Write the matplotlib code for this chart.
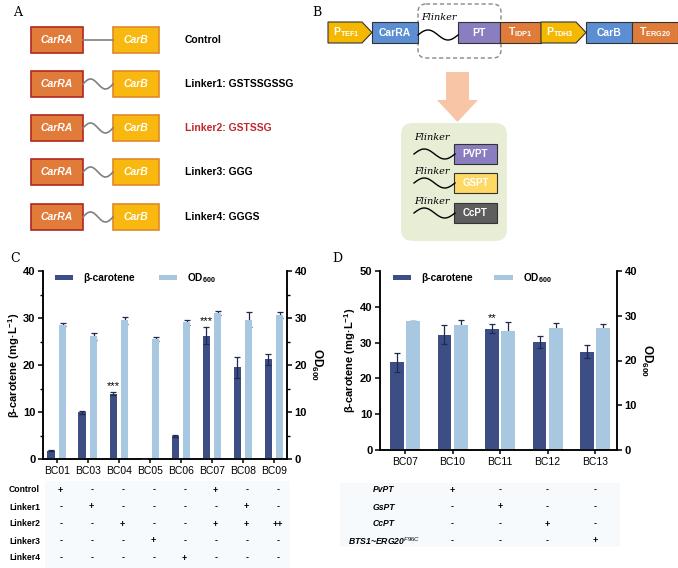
import numpy as np
import matplotlib.pyplot as plt
from matplotlib.patches import Rectangle, Polygon, FancyBboxPatch
from matplotlib import transforms
from matplotlib.ticker import MultipleLocator

plt.rcParams['font.family'] = ['Liberation Sans', 'DejaVu Sans']
plt.rcParams['mathtext.fontset'] = 'custom'
plt.rcParams['mathtext.rm'] = 'Liberation Sans'
plt.rcParams['mathtext.bf'] = 'Liberation Sans:bold'
plt.rcParams['mathtext.it'] = 'Liberation Sans:italic'

# ---- data: panel C ----
c_labels = ['BC01', 'BC03', 'BC04', 'BC05', 'BC06', 'BC07', 'BC08', 'BC09']
c_beta = [1.8, 9.9, 13.9, 0.0, 4.9, 26.2, 19.5, 21.2]
c_beta_err = [0.2, 0.4, 0.3, 0.0, 0.15, 1.8, 2.2, 1.1]
c_od = [28.6, 26.1, 29.5, 25.6, 29.1, 31.1, 29.6, 30.7]
c_od_err = [0.4, 0.7, 0.8, 0.4, 0.5, 0.4, 1.6, 0.6]
c_sig = ['', '', '***', '', '', '***', '', '']
c_rows = ['Control', 'Linker1', 'Linker2', 'Linker3', 'Linker4']
c_marks = [['+', '-', '-', '-', '-', '+', '-', '-'],
           ['-', '+', '-', '-', '-', '-', '+', '-'],
           ['-', '-', '+', '-', '-', '+', '+', '++'],
           ['-', '-', '-', '+', '-', '-', '-', '-'],
           ['-', '-', '-', '-', '+', '-', '-', '-']]

# ---- data: panel D ----
d_labels = ['BC07', 'BC10', 'BC11', 'BC12', 'BC13']
d_beta = [24.5, 32.2, 33.9, 30.1, 27.5]
d_beta_err = [2.6, 2.6, 1.2, 1.7, 1.7]
d_od = [28.8, 27.9, 26.5, 27.3, 27.3]
d_od_err = [0.0, 1.1, 2.0, 1.0, 0.8]
d_sig = ['', '', '**', '', '']
d_rows = ['PvPT', 'GsPT', 'CcPT', 'BTS1~ERG20$^{\\mathit{F96C}}$']
d_marks = [['+', '-', '-', '-'],
           ['-', '+', '-', '-'],
           ['-', '-', '+', '-'],
           ['-', '-', '-', '+']]

# ---- data: panel A ----
a_labels = ['Control', 'Linker1: GSTSSGSSG', 'Linker2: GSTSSG', 'Linker3: GGG', 'Linker4: GGGS']

dark = '#3D4E84'
light = '#A8C7E0'
errc = '#1E2A4F'

W, H = 678, 568
fig = plt.figure(figsize=(W / 100, H / 100), dpi=100)

# overlay axes in pixel coordinates for the schematic parts
ov = fig.add_axes([0, 0, 1, 1])
ov.set_xlim(0, W)
ov.set_ylim(H, 0)
ov.axis('off')

def wave(x0, x1, yc, amp, n=60):
    t = np.linspace(0, 1, n)
    return x0 + (x1 - x0) * t, yc - amp * np.sin(2 * np.pi * t)

# panel labels
for lab, (px, py) in zip('ABCD', [(18, 12), (317, 12), (15, 259), (337, 259)]):
    ov.text(px, py, lab, family='DejaVu Serif', fontsize=9, ha='center', va='center')

# ---- panel A ----
rows_y = [40, 84, 128, 172, 217]
for i, (y, lab) in enumerate(zip(rows_y, a_labels)):
    ov.add_patch(Rectangle((31, y - 13), 52, 26, fc='#E07B39', ec='#B3261E', lw=1.2))
    ov.add_patch(Rectangle((113, y - 13), 46, 26, fc='#F9B80F', ec='#E0892A', lw=1.2))
    ov.text(57, y, 'CarRA', color='white', style='italic', weight='bold', fontsize=7.5,
            ha='center', va='center')
    ov.text(136, y, 'CarB', color='white', style='italic', weight='bold', fontsize=7.5,
            ha='center', va='center')
    if i == 0:
        ov.plot([83, 113], [y, y], color='#808080', lw=1.2)
    else:
        wx, wy = wave(83, 113, y, 5)
        ov.plot(wx, wy, color='#808080', lw=1.2)
    ov.text(185, y, lab, weight='bold', fontsize=7.5, ha='left', va='center',
            color='#C0272D' if i == 2 else 'black')

# ---- panel B ----
yt, hb = 22, 21
yc = yt + hb / 2
def pentagon(x0, x1, col, lab):
    ov.add_patch(Polygon([(x0, yt), (x1 - 10, yt), (x1, yc), (x1 - 10, yt + hb), (x0, yt + hb)],
                         closed=True, fc=col, ec='#333333', lw=0.8))
    ov.text((x0 + x1) / 2 - 4, yc, lab, color='white', fontsize=7.5, ha='center', va='center')

def box(x0, x1, col, lab, y0=yt, h=hb, fs=7.5):
    ov.add_patch(Rectangle((x0, y0), x1 - x0, h, fc=col, ec='#333333', lw=0.8))
    ov.text((x0 + x1) / 2, y0 + h / 2, lab, color='white', weight='bold', fontsize=fs,
            ha='center', va='center')

ov.add_patch(FancyBboxPatch((418, 4), 83, 54, boxstyle='round,pad=0,rounding_size=8',
                            fc='none', ec='#888888', lw=1, ls=(0, (3, 2))))
pentagon(328, 372, '#F5B800', r'$\mathbf{P_{TEF1}}$')
box(372, 418, '#5B8ED2', 'CarRA')
wx, wy = wave(418, 458, 35, 5)
ov.plot(wx, wy, color='black', lw=1)
box(458, 500, '#8B7EC0', 'PT')
box(500, 541, '#E07B39', r'$\mathbf{T_{IDP1}}$')
pentagon(541, 586, '#F5B800', r'$\mathbf{P_{TDH3}}$')
box(586, 632, '#5B8ED2', 'CarB')
box(632, 678, '#E07B39', r'$\mathbf{T_{ERG20}}$')
ov.text(439, 17, 'Flinker', family='DejaVu Serif', style='italic', fontsize=7,
        ha='center', va='center')

# big arrow
ov.add_patch(Polygon([(446, 72), (469, 72), (469, 100), (478, 100), (457.5, 122),
                      (437, 100), (446, 100)], closed=True, fc='#F8C6A6', ec='none'))
# green box
ov.add_patch(FancyBboxPatch((401, 123), 106, 118, boxstyle='round,pad=0,rounding_size=12',
                            fc='#E8EDD6', ec='none'))
for (y0, col, lab), ty in zip([(144, '#8B7EC0', 'PVPT'), (173, '#FFD966', 'GSPT'),
                               (203, '#5E5E5E', 'CcPT')], [138, 172, 201]):
    box(454, 497, col, lab, y0=y0, h=19.5, fs=7)
    ov.text(432, ty, 'Flinker', family='DejaVu Serif', style='italic', fontsize=7,
            ha='center', va='center')
    wx, wy = wave(414, 455, y0 + 10, 5)
    ov.plot(wx, wy, color='black', lw=1)

# table backgrounds
ov.add_patch(Rectangle((45, 481), 245, 87, fc='#F7FAFD', ec='none'))
ov.add_patch(Rectangle((340, 483), 280, 64, fc='#F7FAFD', ec='none'))


def style_axes(ax, ax2, xlim):
    ax.set_xlim(*xlim)
    ax.spines['top'].set_visible(False)
    ax2.spines['top'].set_visible(False)
    for a in (ax, ax2):
        for s in ('left', 'right', 'bottom'):
            a.spines[s].set_linewidth(1.1)
        a.tick_params(axis='y', direction='out', length=3.5, width=1.1, labelsize=8, pad=2)
        a.tick_params(axis='y', which='minor', direction='out', length=2, width=1)
        for t in a.get_yticklabels():
            t.set_fontweight('bold')
    ax.tick_params(axis='x', direction='out', length=3, width=1.1, labelsize=7.5, pad=2)
    ax.patch.set_visible(False)


def draw_panel(rect, labels, beta, beta_err, od, od_err, sig, ylim_l, ylim_r, w, off, xlim,
               minor, lpad):
    ax = fig.add_axes(rect)
    ax2 = ax.twinx()
    ax.set_zorder(3)
    x = np.arange(len(labels))
    b1 = ax.bar(x - off, beta, w, color=dark, zorder=2)
    ax.errorbar(x - off, beta, yerr=beta_err, fmt='none', ecolor=errc, elinewidth=0.9,
                capsize=2.5, capthick=0.9, zorder=3)
    ax2.errorbar(x + off, od, yerr=od_err, fmt='none', ecolor=errc, elinewidth=0.9,
                 capsize=2.5, capthick=0.9, zorder=1)
    b2 = ax2.bar(x + off, od, w, color=light, zorder=2)
    for xi, v, e, s in zip(x, beta, beta_err, sig):
        if s:
            ax.text(xi - off, v + e + 0.3, s, ha='center', va='bottom', fontsize=8)
    ax.set_ylim(*ylim_l)
    ax2.set_ylim(*ylim_r)
    ax.set_xticks(x)
    ax.set_xticklabels(labels)
    ax.yaxis.set_major_locator(MultipleLocator(10))
    ax2.yaxis.set_major_locator(MultipleLocator(10))
    if minor:
        ax.yaxis.set_minor_locator(MultipleLocator(5))
        ax2.yaxis.set_minor_locator(MultipleLocator(5))
    style_axes(ax, ax2, xlim)
    ax.set_ylabel('β-carotene (mg·L$^{\\mathbf{-1}}$)', fontsize=8, weight='bold',
                  labelpad=lpad)
    ax2.set_ylabel('OD$_{\\mathbf{600}}$', fontsize=8.5, weight='bold', rotation=270,
                   labelpad=12)
    return ax, ax2, b1, b2


axC, axC2, bc1, bc2 = draw_panel([43 / W, 1 - 459 / H, 244 / W, 188 / H], c_labels, c_beta,
                                 c_beta_err, c_od, c_od_err, c_sig, (0, 40), (0, 40),
                                 0.24, 0.185, (-0.45, 7.42), True, 0.5)
axC.legend([bc1, bc2], ['β-carotene', 'OD$_{\\mathbf{600}}$'], ncol=2, frameon=False,
           loc='upper left', bbox_to_anchor=(0.05, 1.0), borderpad=0, borderaxespad=0,
           handlelength=1.8, handleheight=0.45, handletextpad=1.0, columnspacing=2.3,
           prop={'weight': 'bold', 'size': 7.3})

axD, axD2, bd1, bd2 = draw_panel([380 / W, 1 - 450 / H, 237 / W, 179 / H], d_labels, d_beta,
                                 d_beta_err, d_od, d_od_err, d_sig, (0, 50), (0, 40),
                                 0.29, 0.17, (-0.526, 4.46), False, 1.5)
axD.legend([bd1, bd2], ['β-carotene', 'OD$_{\\mathbf{600}}$'], ncol=2, frameon=False,
           loc='upper left', bbox_to_anchor=(0.055, 1.0), borderpad=0, borderaxespad=0,
           handlelength=1.8, handleheight=0.45, handletextpad=1.0, columnspacing=2.1,
           prop={'weight': 'bold', 'size': 7.3})

# ---- tables under C and D ----
trC = transforms.blended_transform_factory(axC.transData, ov.transData)
c_row_y = [490, 507, 524, 541, 558]
for lab, marks, y in zip(c_rows, c_marks, c_row_y):
    ov.text(9, y, lab, weight='bold', fontsize=6.2, ha='left', va='center')
    for xi, m in enumerate(marks):
        ov.text(xi + 0.12, y, m, weight='bold', fontsize=6.5, ha='center', va='center',
                transform=trC)

trD = transforms.blended_transform_factory(axD.transData, ov.transData)
d_row_y = [490, 507, 524, 541]
for lab, marks, y in zip(d_rows, d_marks, d_row_y):
    ov.text(384, y, lab, weight='bold', style='italic', fontsize=6.2, ha='center',
            va='center')
    for xi, m in enumerate(marks):
        ov.text(xi + 1, y, m, weight='bold', fontsize=6.5, ha='center', va='center',
                transform=trD)

fig.savefig('out.png', dpi=100)
